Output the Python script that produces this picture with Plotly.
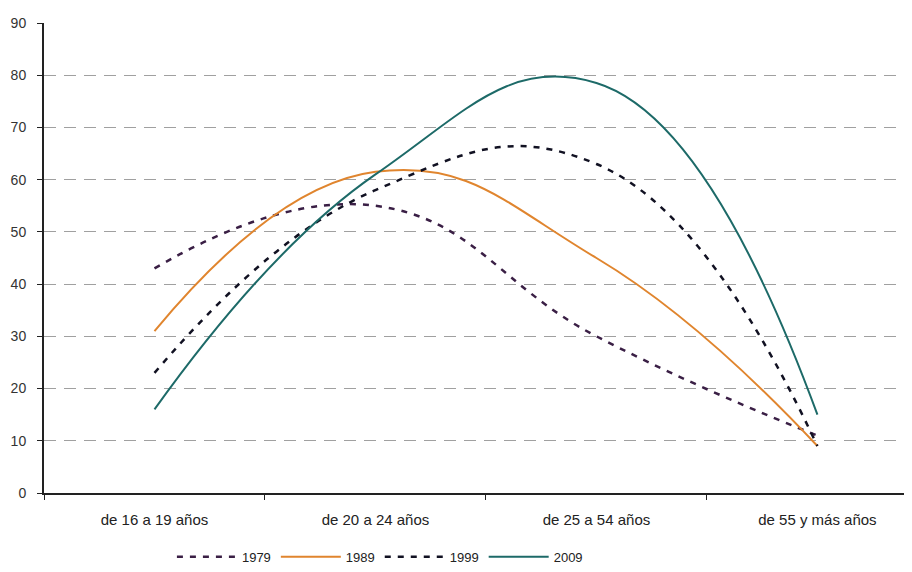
import plotly.graph_objects as go

categories = ["de 16 a 19 años", "de 20 a 24 años", "de 25 a 54 años", "de 55 y más años"]
y1979 = [43, 55, 30, 11]
y1989 = [31, 61.5, 45, 9]
y1999 = [23, 58, 63, 9]
y2009 = [16, 61, 78.5, 15]

fig = go.Figure()
fig.add_trace(go.Scatter(x=categories, y=y1979, name="1979", mode="lines",
                         line=dict(color="#3a1f45", width=2.5, dash="6px,7px", shape="spline", smoothing=1.3)))
fig.add_trace(go.Scatter(x=categories, y=y1989, name="1989", mode="lines",
                         line=dict(color="#e0852e", width=2, shape="spline", smoothing=1.3)))
fig.add_trace(go.Scatter(x=categories, y=y1999, name="1999", mode="lines",
                         line=dict(color="#111122", width=2.5, dash="6px,7px", shape="spline", smoothing=1.3)))
fig.add_trace(go.Scatter(x=categories, y=y2009, name="2009", mode="lines",
                         line=dict(color="#1d6a68", width=2, shape="spline", smoothing=1.3)))

fig.update_layout(
    width=912, height=572,
    margin=dict(l=36, r=8, t=15, b=87),
    paper_bgcolor="white", plot_bgcolor="white",
    font=dict(family="Liberation Sans, Arial, sans-serif", size=13, color="#222"),
    showlegend=True,
    legend=dict(orientation="h", x=0.387, xanchor="center", y=-0.136, yanchor="middle",
                font=dict(size=13), traceorder="normal", itemwidth=60),
    xaxis=dict(type="category", range=[-0.5, 3.428], tickson="boundaries", ticks="outside",
               ticklen=5, tickcolor="#222", showline=True, linecolor="#222", linewidth=2,
               showgrid=False, tickfont=dict(size=15, color="#222"), automargin=False,
               ticklabelstandoff=12),
    yaxis=dict(range=[0, 90], dtick=10, ticks="outside", ticklen=5, tickcolor="#222",
               showline=True, linecolor="#222", linewidth=2,
               showgrid=True, gridcolor="#a0a0a0", gridwidth=1, griddash="12px,8px",
               zeroline=False, tickfont=dict(size=14, color="#333"), automargin=False,
               ticklabelstandoff=8),
)
fig.write_html("out.html")
